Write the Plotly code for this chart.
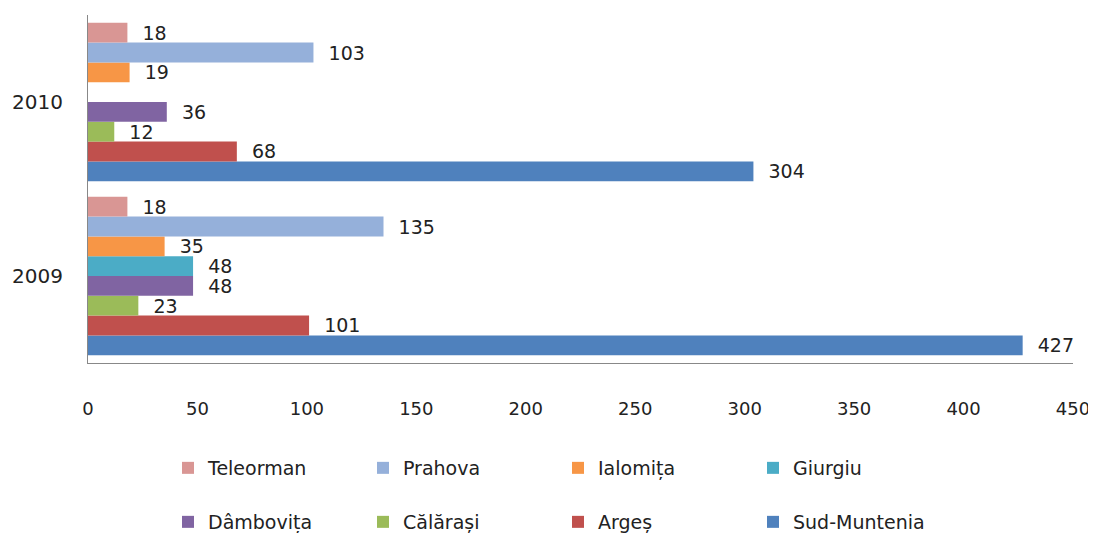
import plotly.graph_objects as go

years = ["2009", "2010"]
regions = ["Sud-Muntenia", "Argeș", "Călărași", "Dâmbovița", "Giurgiu", "Ialomița", "Prahova", "Teleorman"]
values_2009 = [427, 101, 23, 48, 48, 35, 135, 18]
values_2010 = [304, 68, 12, 36, None, 19, 103, 18]
colors = ["#4F81BD", "#C0504D", "#9BBB59", "#8064A2", "#4BACC6", "#F79646", "#95B0DA", "#D99694"]

FONT = "DejaVu Sans, sans-serif"
TXT = "#222222"

# page offset of the figure inside the HTML body (default body margin)
OFF = 8
W, H = 1096 - OFF, 533 - OFF

fig = go.Figure()
for i, name in enumerate(regions):
    vals = [values_2009[i], values_2010[i]]
    fig.add_trace(go.Bar(
        y=years, x=vals, name=name, orientation="h",
        marker=dict(color=colors[i], line=dict(width=0)),
        texttemplate="\u00a0\u00a0%{x}",
        textposition="outside", cliponaxis=False, constraintext="none",
        textfont=dict(size=19, color=TXT, family=FONT),
        legend="legend" if i >= 4 else "legend2",
    ))

plot_left, plot_right, plot_top, plot_bottom = 88 - OFF, 1073 - OFF, 15 - OFF, 363 - OFF
pw = plot_right - plot_left
ph = plot_bottom - plot_top

def px_x(p):
    return (p - OFF - plot_left) / pw

def px_y(p):
    return (plot_bottom - (p - OFF)) / ph

legend_common = dict(
    orientation="h", traceorder="reversed", xanchor="left", yanchor="middle",
    entrywidth=150, entrywidthmode="pixels", itemwidth=30,
    font=dict(size=19, color=TXT, family=FONT),
    bgcolor="rgba(0,0,0,0)",
)

fig.update_layout(
    width=W, height=H,
    margin=dict(l=plot_left, r=W - plot_right, t=plot_top, b=H - plot_bottom, autoexpand=False),
    paper_bgcolor="white", plot_bgcolor="white",
    barmode="group", bargap=0.09, bargroupgap=0,
    font=dict(family=FONT, size=18, color=TXT),
    showlegend=True,
    legend=dict(x=px_x(168), y=px_y(468), **legend_common),
    legend2=dict(x=px_x(168), y=px_y(522), **legend_common),
    xaxis=dict(
        range=[0, 450], dtick=50, tick0=0, showgrid=False, zeroline=False,
        showline=True, linecolor="#888888", linewidth=1, automargin=False,
        ticks="", ticklabelstandoff=29,
        tickfont=dict(size=18, color=TXT, family=FONT),
    ),
    yaxis=dict(
        type="category", categoryorder="array", categoryarray=years,
        showgrid=False, zeroline=False, showline=True, linecolor="#888888", linewidth=1,
        automargin=False, ticks="", ticklabelstandoff=20,
        tickfont=dict(size=20, color=TXT, family=FONT),
    ),
)

fig.write_html("out.html")
